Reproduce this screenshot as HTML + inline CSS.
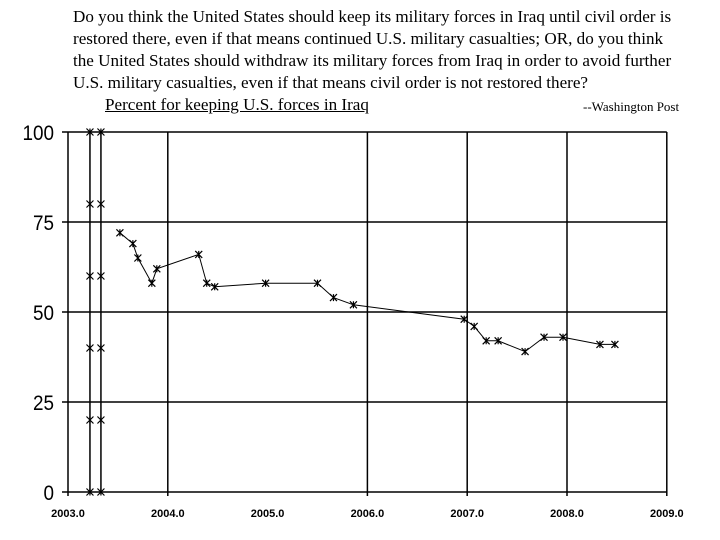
<!DOCTYPE html>
<html><head><meta charset="utf-8"><style>
body{margin:0;background:#fff;width:720px;height:540px;overflow:hidden;position:relative}
.t{position:absolute;font-family:"Liberation Serif",serif;font-size:17.1px;color:#000;white-space:nowrap}
</style></head><body>
<div class="t" style="left:73px;top:6px;line-height:22px">Do you think the United States should keep its military forces in Iraq until civil order is<br>restored there, even if that means continued U.S. military casualties; OR, do you think<br>the United States should withdraw its military forces from Iraq in order to avoid further<br>U.S. military casualties, even if that means civil order is not restored there?</div>
<div class="t" style="left:105px;top:95px;text-decoration:underline">Percent for keeping U.S. forces in Iraq</div>
<div class="t" style="left:583px;top:99px;font-size:13px">--Washington Post</div>
<svg id="chart" width="720" height="540" style="position:absolute;left:0;top:0"></svg>
<script>
const xVals=[2003.52,2003.65,2003.70,2003.84,2003.89,2004.31,2004.39,2004.47,2004.98,2005.5,2005.66,2005.86,2006.97,2007.07,2007.19,2007.31,2007.58,2007.77,2007.96,2008.33,2008.48];
const yVals=[72,69,65,58,62,66,58,57,58,58,54,52,48,46,42,42,39,43,43,41,41];
const yTicks=[0,25,50,75,100];
const xTicks=[2003,2004,2005,2006,2007,2008,2009];
const xGrid=[2004,2006,2007,2008];
const refX=[2003.22,2003.33];
const refY=[0,20,40,60,80,100];
const NS="http://www.w3.org/2000/svg";
const svg=document.getElementById('chart');
const X=v=>68+(v-2003)*99.8;
const Y=v=>492-v*3.6;
function mk(t,a){const e=document.createElementNS(NS,t);for(const k in a)e.setAttribute(k,a[k]);svg.appendChild(e);return e;}
yTicks.forEach(v=>{
 const l=mk('line',{x1:62,x2:X(2009),y1:Y(v),y2:Y(v),stroke:'#000','stroke-width':1.5});
 
 
 const t=mk('text',{x:54,y:Y(v)+8,'text-anchor':'end','font-family':'Liberation Sans, sans-serif','font-size':21,transform:`translate(${54*0.1},0) scale(0.9,1)`});
 t.textContent=v;
 
 
});
xGrid.forEach(v=>{
 const l=mk('line',{x1:X(v),x2:X(v),y1:Y(100),y2:Y(0)+4,stroke:'#000','stroke-width':1.5});
 
 
});
[2003,2009].forEach(v=>{
 const l=mk('line',{x1:X(v),x2:X(v),y1:Y(100),y2:Y(0)+4,stroke:'#000','stroke-width':1.5});
 
 
});
xTicks.forEach(v=>{
 const t=mk('text',{x:X(v),y:517,'text-anchor':'middle','font-family':'Liberation Sans, sans-serif','font-size':11,'font-weight':'bold'});
 t.textContent=v.toFixed(1);
 
 
});
function cross(x,y,name){
 const g=mk('path',{d:`M${x-3.5},${y-3.5}L${x+3.5},${y+3.5}M${x+3.5},${y-3.5}L${x-3.5},${y+3.5}M${x},${y-3.5}L${x},${y+3.5}`,stroke:'#000','stroke-width':1.2,fill:'none'});
 
 
}
refX.forEach(xv=>{
 const l=mk('line',{x1:X(xv),x2:X(xv),y1:Y(100),y2:Y(0),stroke:'#000','stroke-width':1.5});
 
 
 refY.forEach(yv=>cross(X(xv),Y(yv),'reference-marker'));
});
const p=mk('polyline',{points:xVals.map((x,i)=>X(x)+','+Y(yVals[i])).join(' '),fill:'none',stroke:'#000','stroke-width':1});


xVals.forEach((x,i)=>cross(X(x),Y(yVals[i]),'data-point'));
</script>
</body></html>
